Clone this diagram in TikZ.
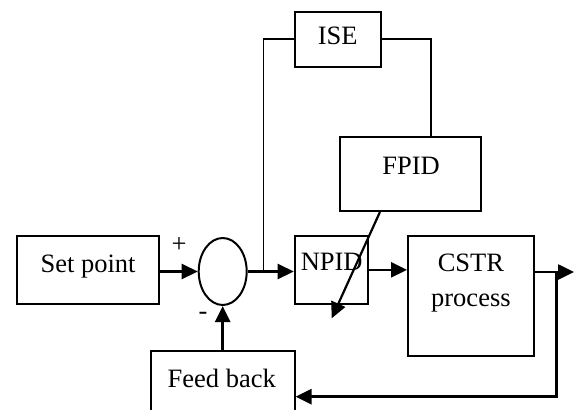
\documentclass[tikz,border=0pt]{standalone}
\usepackage{fontspec}
\setmainfont{Liberation Serif}
\usetikzlibrary{arrows.meta,shapes.geometric}
\begin{document}
\begin{tikzpicture}[x=1pt,y=-1pt,
  box/.style={draw,line width=2pt,inner sep=0pt},
  lbl/.style={inner sep=0pt,anchor=base,font=\fontsize{26.5}{30}\selectfont},
  tipstyle/.style={-{Triangle[length=16pt,width=15pt]}},
  flow/.style={line width=2.6pt,tipstyle},
  thin/.style={line width=1.8pt}]
\useasboundingbox (0,0) rectangle (574,410);
\clip (0,0) rectangle (574,410);
% boxes
\node[box,minimum width=142pt,minimum height=67.7pt] (sp) at (88,269.85) {};
\node[draw,line width=2pt,ellipse,inner sep=0pt,minimum width=48pt,minimum height=67pt] (sum) at (222.7,271.5) {};
\node[box,minimum width=73.2pt,minimum height=67.7pt] (npid) at (331.3,269.85) {};
\node[box,minimum width=125.7pt,minimum height=120pt] (cstr) at (470.85,296) {};
\node[box,minimum width=86pt,minimum height=55pt] (ise) at (337.7,39.2) {};
\node[box,minimum width=140.9pt,minimum height=73.7pt] (fpid) at (410.85,174.15) {};
\node[box,minimum width=143.7pt,minimum height=91.4pt] (fb) at (222.7,396.7) {};
% labels
\node[lbl] at (88,272) {Set point};
\node[lbl] at (331.7,270) {NPID};
\node[lbl] at (470.9,271.7) {CSTR};
\node[lbl] at (470.9,306.7) {process};
\node[lbl] at (337.7,44) {ISE};
\node[lbl] at (411,174) {FPID};
\node[lbl] at (221.7,387) {Feed back};
\node[lbl] at (179,252) {+};
\node[lbl] at (203,319) {-};
% coordinates
\coordinate (j) at (263.5,271.5);
\coordinate (br) at (556.7,272);
\coordinate (out) at (574,272);
\coordinate (tip) at (331.7,318.3);
% connectors
\draw[flow] (sp.east |- sum.west) -- (sum.west);
\draw[flow] (sum.east) -- (npid.west |- sum.east);
\draw[flow] (npid.east) -- (cstr.west |- npid.east);
\draw[flow] (cstr.east |- out) -- (out);
\draw[flow] (br) |- (fb.east);
\draw[flow] (fb.north) -- (sum.south);
\draw[thin] (j) |- (ise.west);
\draw[thin] (ise.east) -| ([xshift=20.3pt]fpid.north);
\draw[flow,line width=2.2pt] ([xshift=-30.9pt]fpid.south) -- (tip);
\end{tikzpicture}
\end{document}
